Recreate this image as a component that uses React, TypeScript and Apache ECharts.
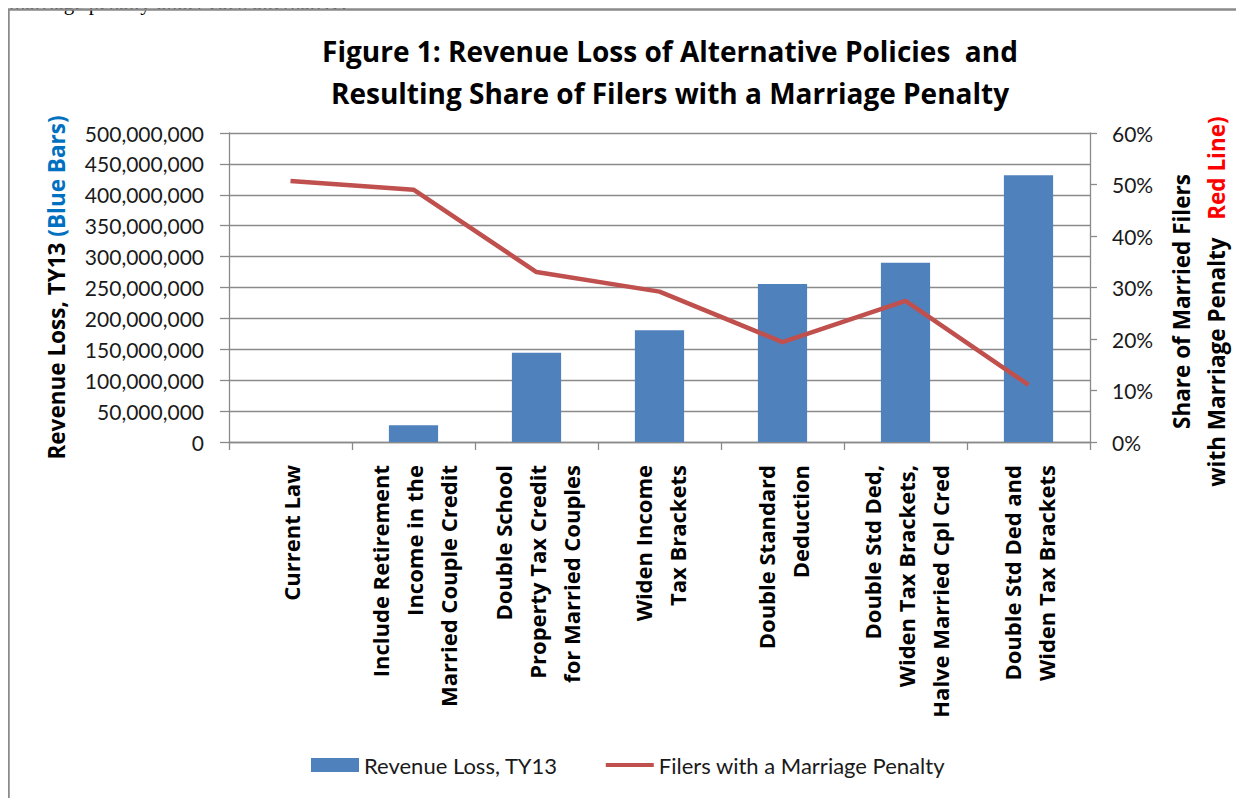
import React, { useEffect, useRef } from "react";
import * as echarts from "echarts";

const categories = [
  "Current Law",
  "Include Retirement\nIncome in the\nMarried Couple Credit",
  "Double School\nProperty Tax Credit\nfor Married Couples",
  "Widen Income\nTax Brackets",
  "Double Standard\nDeduction",
  "Double Std Ded,\nWiden Tax Brackets,\nHalve Married Cpl Cred",
  "Double Std Ded and\nWiden Tax Brackets",
];
const revenueLoss = [0, 27000000, 144500000, 181000000, 255500000, 290000000, 431500000];
const penaltyShare = [50.7, 49.0, 33.0, 29.2, 19.4, 27.4, 11.1];
const leftTicks = { min: 0, max: 500000000, interval: 50000000 };
const rightTicks = { min: 0, max: 60, interval: 10 };

const FONT = "Lato, 'Open Sans', sans-serif";
const BOLDFONT = "'Open Sans', Lato, sans-serif";
const GRID = "#8a8a8a";
const TXT = "#1a1a1a";

export default function App() {
  const ref = useRef<HTMLDivElement>(null);
  useEffect(() => {
    const chart = echarts.init(ref.current!, undefined, { renderer: "svg" });
    chart.setOption({
      animation: false,
      backgroundColor: "#ffffff",
      title: {
        text: "Figure 1: Revenue Loss of Alternative Policies  and\nResulting Share of Filers with a Marriage Penalty",
        left: 665,
        top: 25,
        textAlign: "center",
        textStyle: { fontFamily: BOLDFONT, fontWeight: "bold", fontSize: 28, lineHeight: 42, color: "#000" },
      },
      graphic: [
        {
          type: "text",
          x: 9,
          y: 13,
          style: {
            text: "marriage penalty under each alternative.",
            fontFamily: "'Liberation Serif', serif",
            fontSize: 21,
            fill: "#000",
            verticalAlign: "bottom",
          },
        },
        {
          type: "rect",
          shape: { x: 8.5, y: 9.5, width: 1233.5, height: 820 },
          style: { fill: "none", stroke: "#8a8a8a", lineWidth: 2.5 },
        },
      ],
      legend: {
        left: 306,
        top: 749,
        itemWidth: 48,
        itemHeight: 14,
        itemGap: 48,
        textStyle: { fontFamily: FONT, fontSize: 22, color: TXT },
        data: [
          { name: "Revenue Loss, TY13", icon: "rect" },
          { name: "Filers with a Marriage Penalty", icon: "path://M0,0H60V5H0Z" },
        ],
      },
      grid: { left: 229, right: 154, top: 133, bottom: 356, containLabel: false },
      xAxis: {
        type: "category",
        data: categories,
        boundaryGap: true,
        axisLine: { lineStyle: { color: GRID, width: 1.3 } },
        axisTick: { show: true, length: 8, alignWithLabel: false, lineStyle: { color: GRID, width: 1.3 } },
        axisLabel: {
          interval: 0,
          rotate: 90,
          margin: 23,
          fontFamily: BOLDFONT,
          fontWeight: "bold",
          fontSize: 22,
          lineHeight: 34,
          color: "#000",
          align: "right",
        },
      },
      yAxis: [
        {
          type: "value",
          position: "left",
          ...leftTicks,
          name: "{a|Revenue Loss, TY13 }{b|(Blue Bars)}",
          nameLocation: "middle",
          nameRotate: 90,
          nameGap: 161,
          nameTextStyle: {
            rich: {
              a: { fontFamily: BOLDFONT, fontWeight: "bold", fontSize: 22.5, color: "#000" },
              b: { fontFamily: BOLDFONT, fontWeight: "bold", fontSize: 22.5, color: "#0070C0" },
            },
          },
          axisLine: { show: true, lineStyle: { color: GRID, width: 1.3 } },
          axisTick: { show: true, length: 9, lineStyle: { color: GRID, width: 1.3 } },
          splitLine: { show: true, lineStyle: { color: GRID, width: 1.3 } },
          axisLabel: {
            margin: 25,
            fontFamily: FONT,
            fontSize: 21,
            color: TXT,
            formatter: (v: number) => v.toLocaleString("en-US"),
          },
        },
        {
          type: "value",
          position: "right",
          ...rightTicks,
          name: "{a|Share of Married Filers}{s| }\n{a|with Marriage Penalty   }{r|Red Line)}{s| }",
          nameLocation: "middle",
          nameRotate: 90,
          nameGap: 74,
          nameTextStyle: {
            lineHeight: 35,
            rich: {
              a: { fontFamily: BOLDFONT, fontWeight: "bold", fontSize: 22.5, color: "#000", lineHeight: 35 },
              r: { fontFamily: BOLDFONT, fontWeight: "bold", fontSize: 22.5, color: "#FF0000", lineHeight: 35 },
              s: { fontFamily: BOLDFONT, fontSize: 22.5, width: 28, lineHeight: 35 },
            },
          },
          axisLine: { show: true, lineStyle: { color: GRID, width: 1.3 } },
          axisTick: { show: true, length: 7, lineStyle: { color: GRID, width: 1.3 } },
          splitLine: { show: false },
          axisLabel: {
            margin: 22,
            fontFamily: FONT,
            fontSize: 21,
            color: TXT,
            formatter: "{value}%",
          },
        },
      ],
      series: [
        {
          name: "Revenue Loss, TY13",
          type: "bar",
          data: revenueLoss,
          yAxisIndex: 0,
          barCategoryGap: "60%",
          itemStyle: { color: "#4F81BD" },
        },
        {
          name: "Filers with a Marriage Penalty",
          type: "line",
          data: penaltyShare,
          yAxisIndex: 1,
          symbol: "none",
          lineStyle: { color: "#C0504D", width: 4.5 },
          itemStyle: { color: "#C0504D" },
        },
      ],
    });
    return () => chart.dispose();
  }, []);
  return <div ref={ref} style={{ width: 1244, height: 798, marginTop: -8, marginLeft: -8 }} />;
}
